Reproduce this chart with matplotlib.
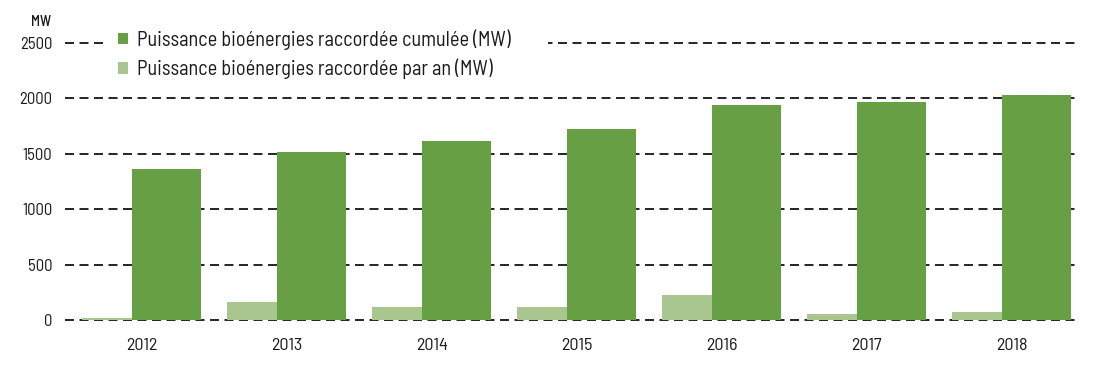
import numpy as np
import matplotlib
matplotlib.use('Agg')
import matplotlib.pyplot as plt
from matplotlib.patches import Patch, Rectangle

# --- Data (MW) ---
years = ['2012', '2013', '2014', '2015', '2016', '2017', '2018']
cumul = [1360, 1513, 1613, 1721, 1937, 1966, 2027]
par_an = [22, 165, 117, 117, 225, 55, 75]
y_ticks = [0, 500, 1000, 1500, 2000, 2500]

DARK = '#67a044'
LIGHT = '#aac68f'
TXT = '#1a1a1a'
plt.rcParams['font.family'] = ['Barlow Semi Condensed', 'DejaVu Sans']

W, H = 1107, 368
fig = plt.figure(figsize=(W / 100, H / 100), dpi=100)
# axes placed in pixel terms: x 65..1080, y 320 (0) .. 43 (2500)
ax = fig.add_axes([65 / W, (H - 320) / H, (1080 - 65) / W, (320 - 43) / H])

x = np.arange(len(years))
ax.bar(x - 0.41, par_an, width=0.345, align='edge', color=LIGHT, zorder=3)
ax.bar(x - 0.0655, cumul, width=0.476, align='edge', color=DARK, zorder=3)

ax.set_xlim(-0.528, 6.472)
ax.set_ylim(0, 2500)
ax.set_yticks(y_ticks)
ax.set_yticklabels([str(v) for v in y_ticks], fontsize=12, color=TXT)
ax.set_xticks(x)
ax.set_xticklabels(years, fontsize=13, color=TXT)
ax.tick_params(axis='both', length=0)
ax.tick_params(axis='y', pad=9)
ax.tick_params(axis='x', pad=13)
for s in ax.spines.values():
    s.set_visible(False)

for v in y_ticks:
    ax.axhline(v, color='black', linewidth=1.2, linestyle=(0, (5.4, 3.3)),
               zorder=1, clip_on=False)

fig.text(41 / W, (H - 22) / H, 'MW', fontsize=10.5, fontweight='medium',
         ha='center', va='center', color=TXT)

# white box behind the legend (hides the 2500 gridline there)
fig.add_artist(Rectangle((108 / W, (H - 82) / H), (548 - 108) / W, 54 / H,
                         transform=fig.transFigure, facecolor='white',
                         edgecolor='none', zorder=2))

handles = [Patch(facecolor=DARK, edgecolor='none'),
           Patch(facecolor=LIGHT, edgecolor='none')]
labels = ['Puissance bioénergies raccordée cumulée (MW)',
          'Puissance bioénergies raccordée par an (MW)']
leg = fig.legend(handles, labels, loc='upper left',
                 bbox_to_anchor=(118 / W, (H - 29) / H),
                 fontsize=14.6, frameon=False, borderpad=0,
                 handlelength=0.49, handleheight=0.49, handletextpad=0.44,
                 labelspacing=0.45, borderaxespad=0)
for t in leg.get_texts():
    t.set_color(TXT)
leg.set_zorder(5)

fig.savefig('out.png', dpi=100, facecolor='white')
